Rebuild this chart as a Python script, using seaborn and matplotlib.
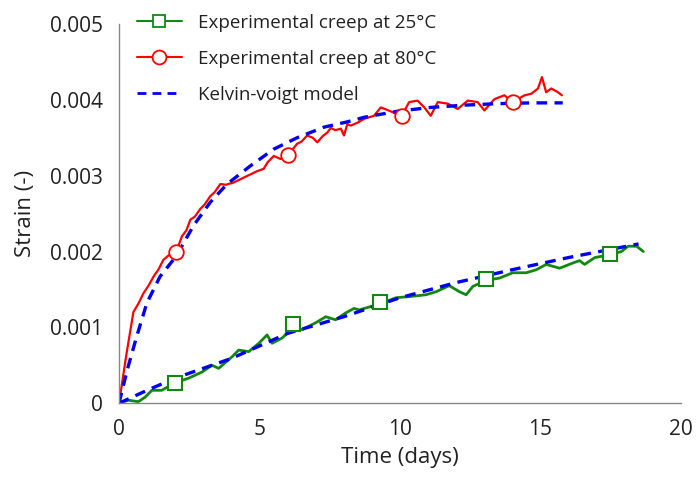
import matplotlib
matplotlib.use('Agg')
import matplotlib.pyplot as plt
from matplotlib.lines import Line2D
import seaborn as sns
import pandas as pd

# Creep a 80°C
t80 = [0.0, 0.09, 0.27, 0.45, 0.51, 0.7, 0.87, 1.05, 1.23, 1.4, 1.58, 1.8, 2.04, 2.24, 2.4, 2.54,
       2.7, 2.89, 3.05, 3.25, 3.4, 3.61, 3.8, 4.08, 4.92, 5.15, 5.3, 5.51, 5.75, 6.02, 6.34, 6.5,
       6.7, 6.9, 7.06, 7.25, 7.42, 7.54, 7.7, 7.9, 8.01, 8.13, 8.25, 8.5, 8.73, 9.08, 9.32, 9.6,
       9.85, 10.07, 10.33, 10.63, 10.87, 11.1, 11.35, 11.7, 12.06, 12.42, 12.77, 13.01, 13.37,
       13.72, 14.02, 14.44, 14.68, 14.92, 15.06, 15.21, 15.39, 15.63, 15.77]
e80 = [0.0, 0.00022, 0.00066, 0.00106, 0.0012, 0.00132, 0.00145, 0.00155, 0.00167, 0.00176,
       0.00189, 0.00196, 0.0020, 0.0022, 0.00228, 0.00242, 0.00246, 0.00256, 0.00262, 0.00273,
       0.00278, 0.00289, 0.00288, 0.00291, 0.00306, 0.00309, 0.00318, 0.00326, 0.00322,
       0.00327, 0.00342, 0.00345, 0.00353, 0.0035, 0.00344, 0.00352, 0.00357, 0.00363,
       0.0036, 0.00362, 0.00353, 0.00368, 0.00366, 0.0037, 0.00375, 0.00379, 0.0039, 0.00386,
       0.00382, 0.00379, 0.00397, 0.00399, 0.0039, 0.00379, 0.00397, 0.00395, 0.00388,
       0.00399, 0.00397, 0.00386, 0.00401, 0.00406, 0.00397, 0.00406, 0.00408, 0.00415,
       0.0043, 0.0041, 0.00415, 0.0041, 0.00406]

# Creep a 25°C
t25 = [0.0, 0.33, 0.69, 0.93, 1.17, 1.52, 2.0, 2.48, 2.95, 3.31, 3.55, 4.02, 4.26, 4.62, 4.98,
       5.27, 5.45, 5.81, 6.2, 6.52, 7.0, 7.36, 7.71, 8.07, 8.37, 8.55, 9.3, 9.86, 10.45, 10.93,
       11.29, 11.76, 12.12, 12.36, 12.6, 13.07, 13.55, 14.02, 14.5, 14.86, 15.21, 15.69, 16.17,
       16.4, 16.58, 16.94, 17.5, 17.89, 18.13, 18.43, 18.67]
e25 = [0.0, 0.00004, 0.00002, 0.00008, 0.00017, 0.00017, 0.00027, 0.00033, 0.00041, 0.0005,
       0.00046, 0.00061, 0.0007, 0.00068, 0.00079, 0.0009, 0.00079, 0.00086, 0.00100, 0.00097,
       0.00106, 0.00114, 0.0011, 0.00119, 0.00125, 0.00123, 0.00131, 0.00139, 0.00141,
       0.00143, 0.00147, 0.00155, 0.00147, 0.00143, 0.00154, 0.00162, 0.00165, 0.00172,
       0.00172, 0.00176, 0.00183, 0.00178, 0.00185, 0.00188, 0.00183, 0.00192, 0.00196,
       0.002, 0.00207, 0.00207, 0.002]

# Modelo Kelvin-Voigt (curvas leidas)
tkv80 = [0.0, 0.3, 0.63, 0.99, 1.46, 2.04, 2.65, 3.25, 3.85, 4.68, 5.51, 6.34, 7.3, 8.13, 8.73,
         9.92, 11.1, 12.3, 13.5, 14.7, 15.8]
ekv80 = [0.0, 0.00045, 0.00088, 0.00132, 0.00167, 0.00194, 0.00234, 0.00265, 0.00289, 0.00313,
         0.00335, 0.0035, 0.00364, 0.00371, 0.00377, 0.00385, 0.0039, 0.00393, 0.00395,
         0.00396, 0.00396]
tkv25 = [0.0, 1.0, 2.0, 4.0, 6.0, 8.0, 10.0, 12.0, 14.0, 16.0, 18.5]
ekv25 = [0.0, 0.00017, 0.00033, 0.00059, 0.00092, 0.00114, 0.00139, 0.00159, 0.00176,
         0.00192, 0.0021]

# Marcadores
mk25_t = [2.0, 6.2, 9.3, 13.07, 17.5]
mk25_e = [0.00027, 0.00105, 0.00133, 0.00164, 0.00197]
mk80_t = [2.04, 6.02, 10.07, 14.02]
mk80_e = [0.0020, 0.00327, 0.00379, 0.00397]

sns.set_style('white')
plt.rcParams['font.family'] = ['Open Sans', 'DejaVu Sans']

fig = plt.figure(figsize=(6.96, 4.80), dpi=100)
ax = fig.add_axes([0.171, 0.160, 0.807, 0.790])

green = '#118811'
red = '#ff0000'
blue = '#0000ee'

sns.lineplot(x=t25, y=e25, ax=ax, color=green, lw=2.0, sort=False, estimator=None)
sns.lineplot(x=t80, y=e80, ax=ax, color=red, lw=1.6, sort=False, estimator=None)
ax.plot(tkv80, ekv80, color=blue, lw=2.4, ls=(0, (3.2, 2.2)))
ax.plot(tkv25, ekv25, color=blue, lw=2.4, ls=(0, (3.2, 2.2)))
ax.plot(mk25_t, mk25_e, ls='none', marker='s', ms=10, mfc='white', mec=green, mew=1.5)
ax.plot(mk80_t, mk80_e, ls='none', marker='o', ms=10.5, mfc='white', mec=red, mew=1.3)

ax.set_xlim(0, 20)
ax.set_ylim(0, 0.005)
ax.set_xticks([0, 5, 10, 15, 20])
ax.set_yticks([0, 0.001, 0.002, 0.003, 0.004, 0.005])
ax.set_yticklabels(['0', '0.001', '0.002', '0.003', '0.004', '0.005'])
ax.set_xlabel('Time (days)', fontsize=16, color='#222222', labelpad=5)
ax.set_ylabel('Strain (-)', fontsize=16, color='#222222', labelpad=10)
ax.tick_params(axis='both', direction='out', length=5.5, width=1, color='#888888',
               labelsize=15, labelcolor='#222222', pad=6)
for s in ['top', 'right']:
    ax.spines[s].set_visible(False)
for s in ['left', 'bottom']:
    ax.spines[s].set_color('#888888')
    ax.spines[s].set_linewidth(1)

handles = [
    Line2D([], [], color=green, lw=1.5, marker='s', ms=9, mfc='white', mec=green, mew=1.3),
    Line2D([], [], color=red, lw=1.5, marker='o', ms=10, mfc='white', mec=red, mew=1.3),
    Line2D([], [], color=blue, lw=2, ls=(0, (3.2, 2.2))),
]
labels = ['Experimental creep at 25°C', 'Experimental creep at 80°C', 'Kelvin-voigt model']
fig.legend(handles, labels, loc='upper left', bbox_to_anchor=(0.172, 1.006), frameon=False,
           fontsize=13.5, handlelength=2.4, handletextpad=0.9, labelspacing=0.95,
           labelcolor='#222222')

fig.savefig('out.png', dpi=100)
